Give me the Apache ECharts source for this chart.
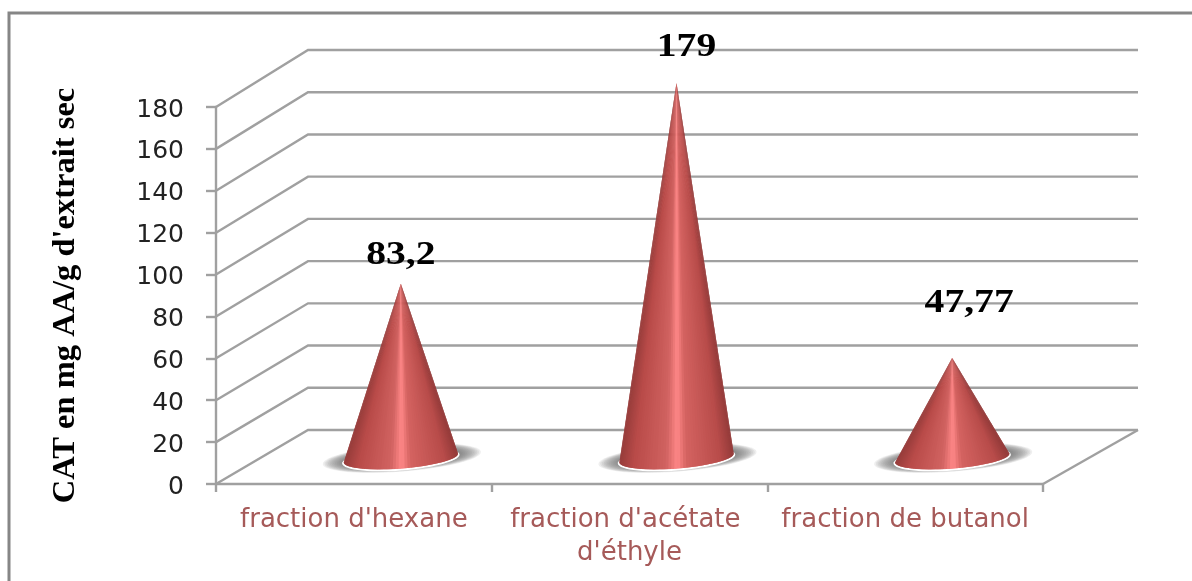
<!DOCTYPE html>
<html>
<head>
<meta charset="utf-8">
<style>html,body{margin:0;padding:0;background:#fff}#c{width:1192px;height:581px}</style>
<script src="https://cdn.jsdelivr.net/npm/echarts@6/dist/echarts.min.js"></script>
</head>
<body>
<div id="c"></div>
<script>
const categories = ["fraction d'hexane", "fraction d'acétate d'éthyle", "fraction de butanol"];
const values = [83.2, 179, 47.77];
const valueLabels = ["83,2", "179", "47,77"];
const yTicks = [0, 20, 40, 60, 80, 100, 120, 140, 160, 180];
const yTitle = "CAT en mg AA/g d'extrait sec";

const labelShift = [[0, -28], [10, -36], [17, -54]];
const GRAY = '#a0a0a0';
const coneStops = [[0, '#973c3b'], [0.12, '#b94b49'], [0.4, '#d06260'], [0.5, '#ff8888'],
                   [0.58, '#d46361'], [0.88, '#b84c4a'], [1, '#933a39']];

function hex(c) { return [1, 3, 5].map(i => parseInt(c.substr(i, 2), 16)); }
function shade(u) {
  for (let i = 1; i < coneStops.length; i++) {
    if (u <= coneStops[i][0]) {
      const a = coneStops[i - 1], b = coneStops[i], t = (u - a[0]) / (b[0] - a[0]);
      const A = hex(a[1]), B = hex(b[1]);
      return 'rgb(' + A.map((v, k) => Math.round(v + (B[k] - v) * t)).join(',') + ')';
    }
  }
  return coneStops[coneStops.length - 1][1];
}
function ellipsePts(cx, cy, rx, ry, tilt, from, to, n) {
  const pts = [], c = Math.cos(tilt), s = Math.sin(tilt);
  for (let i = 0; i <= n; i++) {
    const th = from + (to - from) * i / n;
    const ex = rx * Math.cos(th), ey = ry * Math.sin(th);
    pts.push([cx + ex * c - ey * s, cy + ex * s + ey * c]);
  }
  return pts;
}

function renderWalls(params, api) {
  const v = api.value(0);
  const cs = params.coordSys;
  const p = api.coord([0, v]);
  const left = cs.x, right = cs.x + cs.width, y = p[1];
  const rise = 54 + 3 * v / 180;
  const children = [{
    type: 'polyline',
    shape: { points: [[left, y], [left + 92, y - rise], [right + 95, y - rise]] },
    style: { fill: 'none', stroke: GRAY, lineWidth: 2.4 }
  }];
  if (v === 0) {
    children.push({
      type: 'polyline',
      shape: { points: [[right + 95, y - rise], [right, y]] },
      style: { fill: 'none', stroke: GRAY, lineWidth: 2.4 }
    });
  }
  return { type: 'group', children };
}

function renderCone(params, api) {
  const i = api.value(0), v = api.value(1);
  const base = api.coord([i, 0]), top = api.coord([i, v]);
  const band = api.size([1, 0])[0];
  const dx = 47, dy = -26;
  const cx = base[0] + dx, cy = base[1] + dy;
  const apex = [top[0] + dx, top[1] + dy];
  const rx = band * 0.208, ry = 10.5, tilt = -0.078;
  const children = [];
  const layers = 12;
  for (let k = 0; k < layers; k++) {
    const f = 1 - k / layers;
    children.push({
      type: 'polygon',
      shape: { points: ellipsePts(cx + 1, cy, rx + 1 + 21 * f, ry - 1 + 4 * f, tilt, 0, Math.PI * 2, 48) },
      style: { fill: 'rgba(110,110,110,0.11)' }
    });
  }
  children.push({
    type: 'polygon',
    shape: { points: ellipsePts(cx, cy + 1, rx + 1.5, ry + 1, tilt, 0, Math.PI * 2, 60) },
    style: { fill: '#ffffff' }
  });
  const N = 60;
  const arc = ellipsePts(cx, cy, rx, ry, tilt, Math.PI, 0, N);
  for (let k = 0; k < N; k++) {
    const u = (k + 0.5) / N;
    const th = Math.PI * (1 - u);
    const col = shade((1 + Math.cos(th)) / 2);
    children.push({
      type: 'polygon',
      shape: { points: [apex, arc[k], arc[Math.min(N, k + 2)]] },
      style: { fill: col }
    });
  }
  children.push({
    type: 'text',
    x: apex[0] + labelShift[i][0],
    y: apex[1] + labelShift[i][1],
    scaleX: 1.2,
    style: {
      text: valueLabels[i], align: 'center', verticalAlign: 'middle',
      font: 'bold 33px "Liberation Serif"', fill: '#000'
    }
  });
  return { type: 'group', children };
}

const chart = echarts.init(document.getElementById('c'), null, { renderer: 'canvas' });
chart.setOption({
  animation: false,
  backgroundColor: '#fff',
  graphic: [{
    type: 'rect', z: -1, silent: true,
    shape: { x: 9, y: 13, width: 1300, height: 700 },
    style: { fill: 'none', stroke: '#868686', lineWidth: 3 }
  }],
  grid: { left: 216, top: 107, width: 827, height: 377 },
  xAxis: {
    type: 'category',
    data: categories,
    axisLine: { lineStyle: { color: GRAY, width: 2.4 } },
    axisTick: { show: true, length: 8, lineStyle: { color: GRAY, width: 2.4 } },
    axisLabel: {
      interval: 0, margin: 20, color: '#a65a59', fontSize: 26,
      fontFamily: 'DejaVu Sans', lineHeight: 33, width: 270, overflow: 'break'
    }
  },
  yAxis: {
    type: 'value', min: 0, max: 180, interval: 20,
    name: yTitle, nameLocation: 'middle', nameGap: 134, nameRotate: 90,
    nameTextStyle: { fontFamily: 'Liberation Serif', fontWeight: 'bold', fontSize: 32.5, color: '#000' },
    axisLine: { show: true, lineStyle: { color: GRAY, width: 2.4 } },
    axisTick: { show: true, length: 10, lineStyle: { color: GRAY, width: 2.4 } },
    splitLine: { show: false },
    axisLabel: { margin: 32, color: '#222', fontSize: 25, fontFamily: 'DejaVu Sans',
                 verticalAlign: 'top', lineHeight: 6 }
  },
  series: [
    {
      type: 'custom', z: 1, silent: true, renderItem: renderWalls,
      encode: { y: 0 }, clip: false,
      data: yTicks.map(t => [t])
    },
    {
      type: 'custom', z: 2, silent: true, renderItem: renderCone,
      encode: { x: 0, y: 1 }, clip: false,
      data: values.map((v, i) => [i, v])
    }
  ]
});
</script>
</body>
</html>
